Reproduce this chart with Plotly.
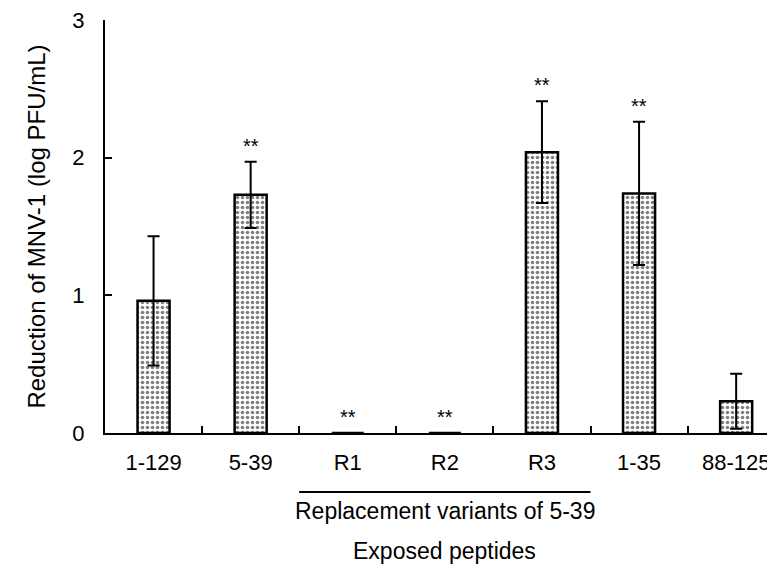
import plotly.graph_objects as go

categories = ["1-129", "5-39", "R1", "R2", "R3", "1-35", "88-125"]
values = [0.96, 1.73, 0.0, 0.0, 2.04, 1.74, 0.23]
errors = [0.47, 0.24, 0.0, 0.0, 0.37, 0.52, 0.20]
significant = [False, True, True, True, True, True, False]
y_ticks = [0, 1, 2, 3]
group_label = "Replacement variants of 5-39"
group_members = ["R1", "R2", "R3"]
x_title = "Exposed peptides"
y_title = "Reduction of MNV-1 (log PFU/mL)"

FONT = "Liberation Sans, Arial, sans-serif"

# page has an 8px body margin; figure is sized to fit the 775x567 window
W, H = 767, 559
ML, MT, MB = 97, 12, 134
plot_bottom = H - MB
plot_h = H - MT - MB

def paper_y(page_px):
    return (plot_bottom - (page_px - 8)) / plot_h

fig = go.Figure()
fig.add_trace(go.Bar(
    x=categories, y=values,
    width=0.33,
    marker=dict(
        color="white",
        line=dict(color="black", width=2.5),
        pattern=dict(shape=".", fgcolor="black", bgcolor="white", size=5, solidity=0.4),
    ),
    error_y=dict(type="data", array=errors, visible=True, color="black", thickness=2, width=6),
    showlegend=False,
    cliponaxis=False,
))

annotations = []
for c, v, e, s in zip(categories, values, errors, significant):
    if s:
        annotations.append(dict(x=c, y=v + e + 0.02, xref="x", yref="y", text="**",
                                showarrow=False, yanchor="bottom",
                                font=dict(family=FONT, size=20, color="black")))

i0 = categories.index(group_members[0])
i1 = categories.index(group_members[-1])

fig.add_shape(type="line", xref="x", yref="paper", x0=i0 - 0.5, x1=i1 + 0.5,
              y0=paper_y(492), y1=paper_y(492), line=dict(color="black", width=2))
annotations.append(dict(x=(i0 + i1) / 2, y=paper_y(511), xref="x", yref="paper", text=group_label,
                        showarrow=False, yanchor="middle",
                        font=dict(family=FONT, size=23, color="black")))
annotations.append(dict(x=(i0 + i1) / 2, y=paper_y(551), xref="x", yref="paper", text=x_title,
                        showarrow=False, yanchor="middle",
                        font=dict(family=FONT, size=23, color="black")))

fig.update_layout(
    width=W, height=H,
    margin=dict(l=ML, r=0, t=MT, b=MB),
    paper_bgcolor="white", plot_bgcolor="white",
    font=dict(family=FONT, size=22, color="black"),
    annotations=annotations,
)
fig.update_xaxes(
    range=[-0.5, 6.4], type="category",
    showline=True, linecolor="black", linewidth=2,
    ticks="inside", tickson="boundaries", ticklen=7, tickwidth=2, tickcolor="black",
    showgrid=False, zeroline=False,
    tickfont=dict(family=FONT, size=22),
    ticklabelstandoff=9,
    ticklabeloverflow="allow",
)
fig.update_yaxes(
    range=[0, 3], tickvals=y_ticks,
    showline=True, linecolor="black", linewidth=2,
    ticks="inside", ticklen=7, tickwidth=2, tickcolor="black",
    showgrid=False, zeroline=False,
    tickfont=dict(family=FONT, size=22),
    ticklabelstandoff=14,
    ticklabeloverflow="allow",
    title=dict(text=y_title, font=dict(family=FONT, size=24), standoff=20),
)

fig.write_html("out.html")
